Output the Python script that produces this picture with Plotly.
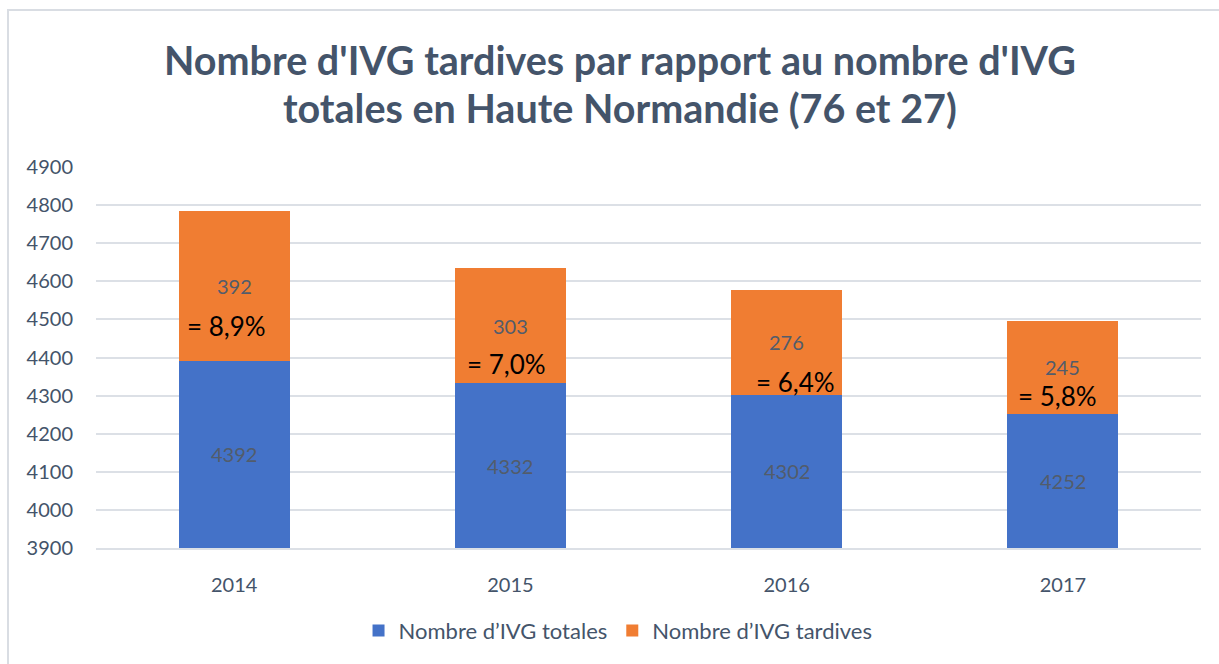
import plotly.graph_objects as go

years = ["2014", "2015", "2016", "2017"]
totales = [4392, 4332, 4302, 4252]
tardives = [392, 303, 276, 245]
y_min, y_max = 3900, 4900
title_lines = ["Nombre d'IVG tardives par rapport au nombre d'IVG",
               "totales en Haute Normandie (76 et 27)"]

blue = "#4472C8"
orange = "#F07D32"
txt = "#44546A"
font = "Lato"

fig = go.Figure()
fig.add_trace(go.Bar(x=years, y=totales, name="Nombre d’IVG totales",
                     marker=dict(color=blue, line=dict(width=0))))
fig.add_trace(go.Bar(x=years, y=tardives, name="Nombre d’IVG tardives",
                     marker=dict(color=orange, line=dict(width=0))))

annotations = []
pct_dy = [-40, -38, -40, -29]
pct_dx = [-8, -4, 9, -5]
for i, yr in enumerate(years):
    t = totales[i]
    d = tardives[i]
    annotations.append(dict(x=i, y=(max(y_min, 0) + t) / 2, text=str(t), showarrow=False,
                            font=dict(family=font, size=20, color="#525C6B")))
    yc = t + d / 2
    annotations.append(dict(x=i, y=yc, text=str(d), showarrow=False,
                            font=dict(family=font, size=20, color="#525C6B")))
    pct = f"= {d / t * 100:.1f}%".replace(".", ",")
    annotations.append(dict(x=i, y=yc, text=pct, showarrow=False, yshift=pct_dy[i], xshift=pct_dx[i],
                            font=dict(family=font, size=26, color="#000000")))

for k, line in enumerate(title_lines):
    annotations.append(dict(text=f"<b>{line}</b>", xref="paper", yref="paper",
                            x=(620 - 96) / 1105, y=1 + (167 - (60 + 47 * k)) / 381,
                            xanchor="center", yanchor="middle", showarrow=False,
                            font=dict(family=font, size=39.5, color=txt)))

fig.update_layout(
    width=1219, height=664,
    margin=dict(l=96, r=18, t=167, b=116),
    paper_bgcolor="white", plot_bgcolor="white",
    barmode="stack", bargap=0.598,
    font=dict(family=font, color=txt),
    yaxis=dict(range=[y_min, y_max], dtick=100, showgrid=True, gridcolor="#DCE0E6", gridwidth=1.5,
               zeroline=False, tickfont=dict(family=font, size=20, color=txt), ticks="",
               ticklabelstandoff=22, automargin=False),
    xaxis=dict(type="category", range=[-0.5, len(years) - 0.5], showgrid=False, showline=True,
               linecolor="#DCE0E6", linewidth=1.5,
               tickfont=dict(family=font, size=20, color=txt), ticks="", ticklabelstandoff=18,
               automargin=False),
    legend=dict(orientation="h", x=0.507, xanchor="center", xref="container",
                y=0.05, yanchor="middle", yref="container",
                font=dict(family=font, size=22, color=txt), traceorder="normal"),
    annotations=annotations,
    shapes=[dict(type="rect", xref="paper", yref="paper",
                 x0=-88/1105, x1=1.05, y0=-0.5, y1=1 + 157/381,
                 line=dict(color="#D9DDE3", width=2), fillcolor="rgba(0,0,0,0)", layer="below")],
)

fig.write_html("out.html", config={"displayModeBar": False},
               post_script="document.body.style.margin='0';")
